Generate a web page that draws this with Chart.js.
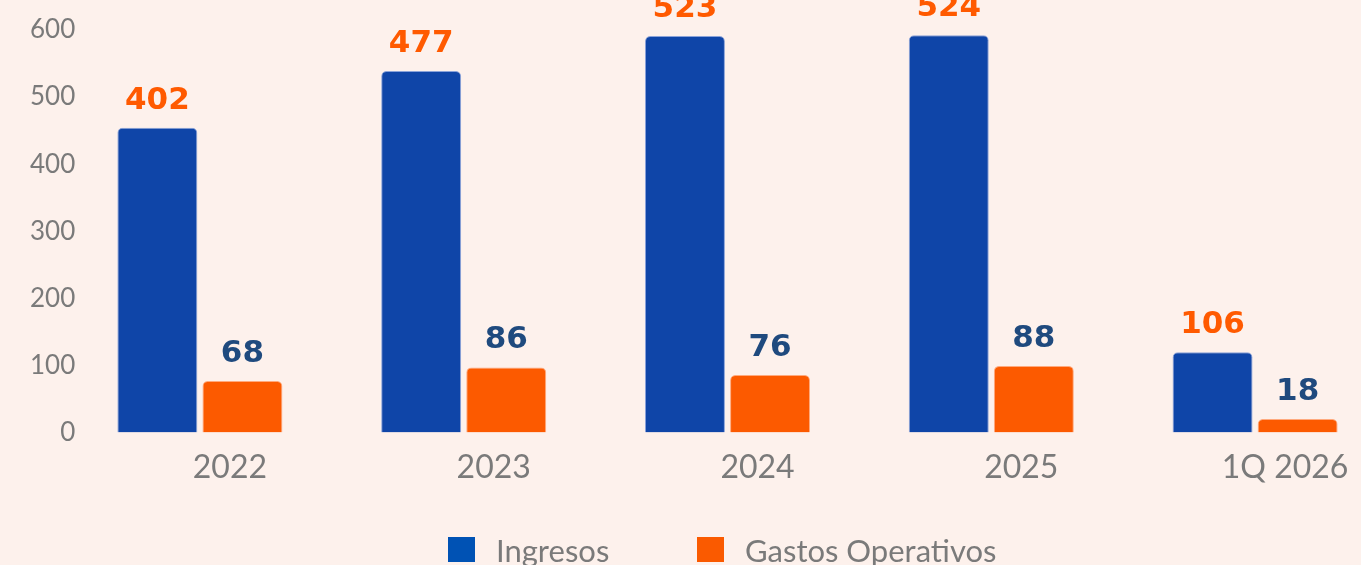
<!DOCTYPE html>
<html lang="es">
<head>
<meta charset="utf-8">
<title>Ingresos vs Gastos Operativos</title>
<script src="https://cdn.jsdelivr.net/npm/chart.js@4.4.1/dist/chart.umd.min.js"></script>
<style>
    html, body {
        margin: 0;
        padding: 0;
        background: #fdf1ec;
        overflow: hidden;
    }
    .wrap {
        position: relative;
        width: 1387px;
        height: 565px;
    }
    .legend {
        font-family: Lato, sans-serif;
        font-size: 31px;
        color: #7a7a7a;
    }
    .legend .item {
        position: absolute;
        top: 535px;
        display: flex;
        align-items: center;
        height: 29px;
    }
    .legend .box {
        width: 27px;
        height: 25px;
        margin-right: 21px;
    }
</style>
</head>
<body>
<div class="wrap">
    <canvas id="grafico"></canvas>
    <div class="legend" id="leyenda"></div>
</div>
<script>
// Datos del grafico

const periodos = ['2022', '2023', '2024', '2025', '1Q 2026'];
const ingresos = [402, 477, 523, 524, 106];
const gastosOperativos = [68, 86, 76, 88, 18];
const ticksEje = [0, 100, 200, 300, 400, 500, 600];

const colorIngresos = '#0f45a8';
const colorGastos = '#fc5a00';
const leyendaColores = ['#0052b4', '#fa5a00'];
const etiquetaColores = ['#ff5a00', '#1f4a7e'];

// Etiquetas encima de cada barra
const etiquetasBarras = {
    id: 'etiquetasBarras',
    afterDatasetsDraw(chart) {
        const ctx = chart.ctx;
        chart.data.datasets.forEach(function(ds, i) {
            chart.getDatasetMeta(i).data.forEach(function(bar, j) {
                ctx.save();
                ctx.font = 'bold 31px "DejaVu Sans"';
                ctx.fillStyle = etiquetaColores[i];
                ctx.textAlign = 'center';
                ctx.textBaseline = 'middle';
                ctx.fillText(ds.data[j], bar.x, bar.y - 27);
                ctx.restore();
            });
        });
    }
};

const grafico = new Chart(document.getElementById('grafico'), {
    type: 'bar',
    data: {
        labels: periodos,
        datasets: [{
            label: 'Ingresos',
            data: ingresos,
            backgroundColor: colorIngresos,
            borderColor: 'rgba(90, 130, 210, 0.7)',
            borderWidth: 1,
            borderRadius: 5,
            categoryPercentage: 0.645,
            barPercentage: 0.94
        }, {
            label: 'Gastos Operativos',
            data: gastosOperativos,
            backgroundColor: colorGastos,
            borderColor: 'rgba(255, 140, 80, 0.7)',
            borderWidth: 1,
            borderRadius: 5,
            categoryPercentage: 0.645,
            barPercentage: 0.94
        }]
    },
    options: {
        responsive: true,
        maintainAspectRatio: false,
        animation: false,
        layout: {
            padding: { top: 30, right: 0, bottom: 70, left: 0 }
        },
        plugins: {
            legend: { display: false },
            tooltip: { enabled: false }
        },
        scales: {
            x: {
                grid: { display: false },
                border: { display: false },
                ticks: {
                    color: '#7a7a7a',
                    font: { family: 'Lato', size: 32 },
                    padding: 8,
                    labelOffset: 30,
                    maxRotation: 0
                }
            },
            y: {
                display: false,
                min: 0,
                max: 531
            },
            eje: {
                position: 'left',
                min: 0,
                max: 600,
                grid: { display: false },
                border: { display: false },
                afterBuildTicks: function(axis) {
                    axis.ticks = ticksEje.map(function(v) { return { value: v }; });
                },
                afterFit: function(axis) {
                    axis.width = 68;
                },
                ticks: {
                    color: '#7a7a7a',
                    font: { family: 'Lato', size: 26 },
                    mirror: true,
                    crossAlign: 'far',
                    padding: -38
                }
            }
        }
    },
    plugins: [etiquetasBarras]
});

// Leyenda
const posLeyenda = [448, 697];
const leyenda = document.getElementById('leyenda');
grafico.data.datasets.forEach(function(ds, i) {
    const item = document.createElement('div');
    item.className = 'item';
    item.style.left = posLeyenda[i] + 'px';
    item.innerHTML = '<span class="box" style="background:' + leyendaColores[i] + '"></span><span>' + ds.label + '</span>';
    leyenda.appendChild(item);
});
</script>
</body>
</html>
